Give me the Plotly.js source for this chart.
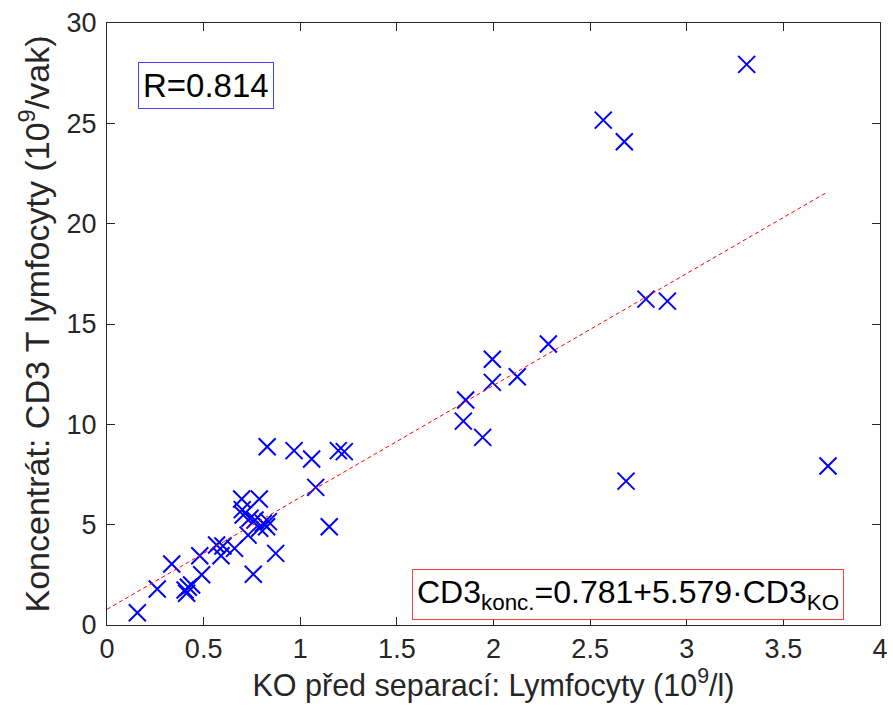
<!DOCTYPE html>
<html>
<head>
<meta charset="utf-8">
<script src="https://cdn.plot.ly/plotly-3.0.1.min.js"></script>
<style>html,body{margin:0;padding:0;background:#fff;}#chart{width:893px;height:719px;}</style>
</head>
<body>
<div id="chart"></div>
<script>
// Data
const koLymfocyty = [0.157, 0.26, 0.335, 0.404, 0.421, 0.438, 0.412, 0.49, 0.48, 0.567, 0.60, 0.59, 0.66, 0.73,
  0.697, 0.788, 0.705, 0.74, 0.766, 0.809, 0.826, 0.835, 0.79, 0.757, 0.873, 0.829, 0.968, 1.059, 1.197, 1.228,
  1.08, 1.15, 1.844, 1.856, 1.944, 1.994, 1.994, 2.123, 2.284, 2.568, 2.677, 3.31, 2.789, 2.9, 2.686, 3.731, 0.70];
const cd3Koncentrat = [0.61, 1.79, 3.04, 1.74, 1.88, 1.99, 1.58, 2.5, 3.45, 3.99, 3.94, 3.45, 3.82, 4.48,
  6.28, 6.28, 5.48, 5.32, 5.23, 5.07, 4.90, 5.15, 4.82, 2.53, 3.57, 8.88, 8.69, 8.27, 8.69, 8.64,
  6.86, 4.90, 10.16, 11.21, 9.35, 12.09, 13.24, 12.37, 14.0, 25.16, 24.08, 27.94, 16.24, 16.14, 7.17, 7.92, 5.75];
const fitIntercept = 0.781;
const fitSlope = 5.579;
const rValue = 0.814;
const xTicks = [0, 0.5, 1, 1.5, 2, 2.5, 3, 3.5, 4];
const yTicks = [0, 5, 10, 15, 20, 25, 30];

const xMax = Math.max(...koLymfocyty);
const fitX = [0, xMax];
const fitY = fitX.map(v => fitIntercept + fitSlope * v);

const font = 'Liberation Sans, Arial, sans-serif';
const axisColor = '#262626';

const traces = [
  {
    x: koLymfocyty, y: cd3Koncentrat, type: 'scatter', mode: 'markers',
    marker: {symbol: 'x-thin-open', size: 17, color: '#0000ff', line: {color: '#0000ff', width: 2}},
    hoverinfo: 'x+y'
  },
  {
    x: fitX, y: fitY, type: 'scatter', mode: 'lines',
    line: {color: '#ff0000', width: 1, dash: '4px,3px'}
  }
];

const layout = {
  width: 893, height: 719,
  margin: {l: 107, r: 13, t: 23, b: 94},
  paper_bgcolor: '#ffffff', plot_bgcolor: '#ffffff',
  showlegend: false,
  font: {family: font, color: '#262626', size: 27},
  xaxis: {
    range: [0, 4], tickvals: xTicks, ticktext: xTicks.map(String),
    showgrid: false, zeroline: false, showline: true, linecolor: axisColor, linewidth: 1,
    mirror: 'allticks', ticks: 'inside', ticklen: 8, tickcolor: axisColor, tickwidth: 1,
    tickfont: {size: 27, color: '#262626'},
    title: {text: 'KO před separací: Lymfocyty (10<sup>9</sup>/l)', font: {size: 30.5, color: '#262626'}, standoff: 9}
  },
  yaxis: {
    range: [0, 30], tickvals: yTicks, ticktext: yTicks.map(String),
    showgrid: false, zeroline: false, showline: true, linecolor: axisColor, linewidth: 1,
    mirror: 'allticks', ticks: 'inside', ticklen: 8, tickcolor: axisColor, tickwidth: 1,
    tickfont: {size: 27, color: '#262626'}, ticklabelstandoff: 4,
    title: {text: 'Koncentrát: CD3 T lymfocyty (10<sup>9</sup>/vak)', font: {size: 34, color: '#262626'}, standoff: 6}
  },
  annotations: [
    {
      xref: 'paper', yref: 'paper', x: 0.04, y: 0.935, xanchor: 'left', yanchor: 'top',
      text: 'R=' + rValue.toFixed(3), showarrow: false,
      font: {family: font, size: 33, color: '#000000'},
      bordercolor: '#4040ff', borderwidth: 1, borderpad: 4, bgcolor: '#ffffff'
    },
    {
      xref: 'paper', yref: 'paper', x: 0.953, y: 0.008, xanchor: 'right', yanchor: 'bottom',
      text: 'CD3<sub>konc.</sub>=' + fitIntercept.toFixed(3) + '+' + fitSlope.toFixed(3) + '·CD3<sub>KO</sub>',
      showarrow: false,
      font: {family: font, size: 32, color: '#000000'},
      bordercolor: '#ff4040', borderwidth: 1, borderpad: 4, bgcolor: '#ffffff'
    }
  ]
};

Plotly.newPlot('chart', traces, layout, {displayModeBar: false, staticPlot: true});
</script>
</body>
</html>
